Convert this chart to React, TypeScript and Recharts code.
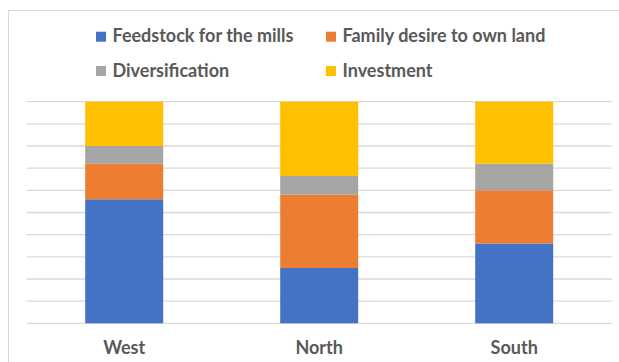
import React from "react";
import { BarChart, Bar, XAxis, YAxis, CartesianGrid, Legend } from "recharts";

const categories = ["West", "North", "South"];
const feedstock = [56, 25, 36];
const familyLand = [16, 33, 24];
const diversification = [8, 8.5, 12];
const investment = [20, 33.5, 28];
const yTicks = [0, 10, 20, 30, 40, 50, 60, 70, 80, 90, 100];

const seriesNames = ["Feedstock for the mills", "Family desire to own land", "Diversification", "Investment"];
const seriesKeys = ["feedstock", "familyLand", "diversification", "investment"];
const seriesColors = ["#4472C4", "#ED7D31", "#A5A5A5", "#FFC000"];

const data = categories.map((c, i) => ({
  name: c,
  feedstock: feedstock[i],
  familyLand: familyLand[i],
  diversification: diversification[i],
  investment: investment[i],
}));

const FONT = "Lato, 'Open Sans', sans-serif";

const LegendContent = () => {
  const colX = [96, 326];
  const rowY = [31.7, 66];
  return (
    <svg width={619} height={90} style={{ display: "block" }}>
      {seriesNames.map((n, i) => {
        const x = colX[i % 2];
        const y = rowY[Math.floor(i / 2)];
        return (
          <g key={n}>
            <rect x={x} y={y} width={10} height={10} fill={seriesColors[i]} />
            <text x={x + 16.5} y={y + 10.6} fontSize={18} fontWeight={700} fill="#595959" fontFamily={FONT}>
              {n}
            </text>
          </g>
        );
      })}
    </svg>
  );
};

const Tick = (props: any) => {
  const { x, y, payload } = props;
  return (
    <text x={x} y={y + 30.7} textAnchor="middle" fontSize={18} fontWeight={700} fill="#595959" fontFamily={FONT}>
      {payload.value}
    </text>
  );
};

export default function App() {
  return (
    <div style={{ position: "absolute", left: 0, top: 0, width: 619, height: 362, overflow: "hidden", background: "#fff" }}>
      <div style={{ position: "absolute", left: 8, top: 9.5, width: 700, height: 500, border: "1px solid #d9d9d9", boxSizing: "border-box" }} />
      <div style={{ position: "absolute", left: 0, top: 0 }}>
        <BarChart
          width={619}
          height={362}
          data={data}
          margin={{ top: 101.7, right: 7.3, left: 26.7, bottom: 8.7 }}
          barCategoryGap="30%"
        >
          <CartesianGrid vertical={false} stroke="#d9d9d9" strokeWidth={1.3} />
          <XAxis dataKey="name" axisLine={false} tickLine={false} tickSize={0} tickMargin={0} height={30} tick={<Tick />} interval={0} />
          <YAxis hide domain={[0, 100]} ticks={yTicks} type="number" interval={0} tickCount={11} />
          <Legend
            layout="horizontal"
            verticalAlign="middle"
            align="center"
            content={<LegendContent />}
            wrapperStyle={{ position: "absolute", left: 0, top: 0, width: 619, height: 90 }}
          />
          {seriesKeys.map((k, i) => (
            <Bar key={k} dataKey={k} name={seriesNames[i]} stackId="a" fill={seriesColors[i]} isAnimationActive={false} />
          ))}
        </BarChart>
      </div>
    </div>
  );
}
